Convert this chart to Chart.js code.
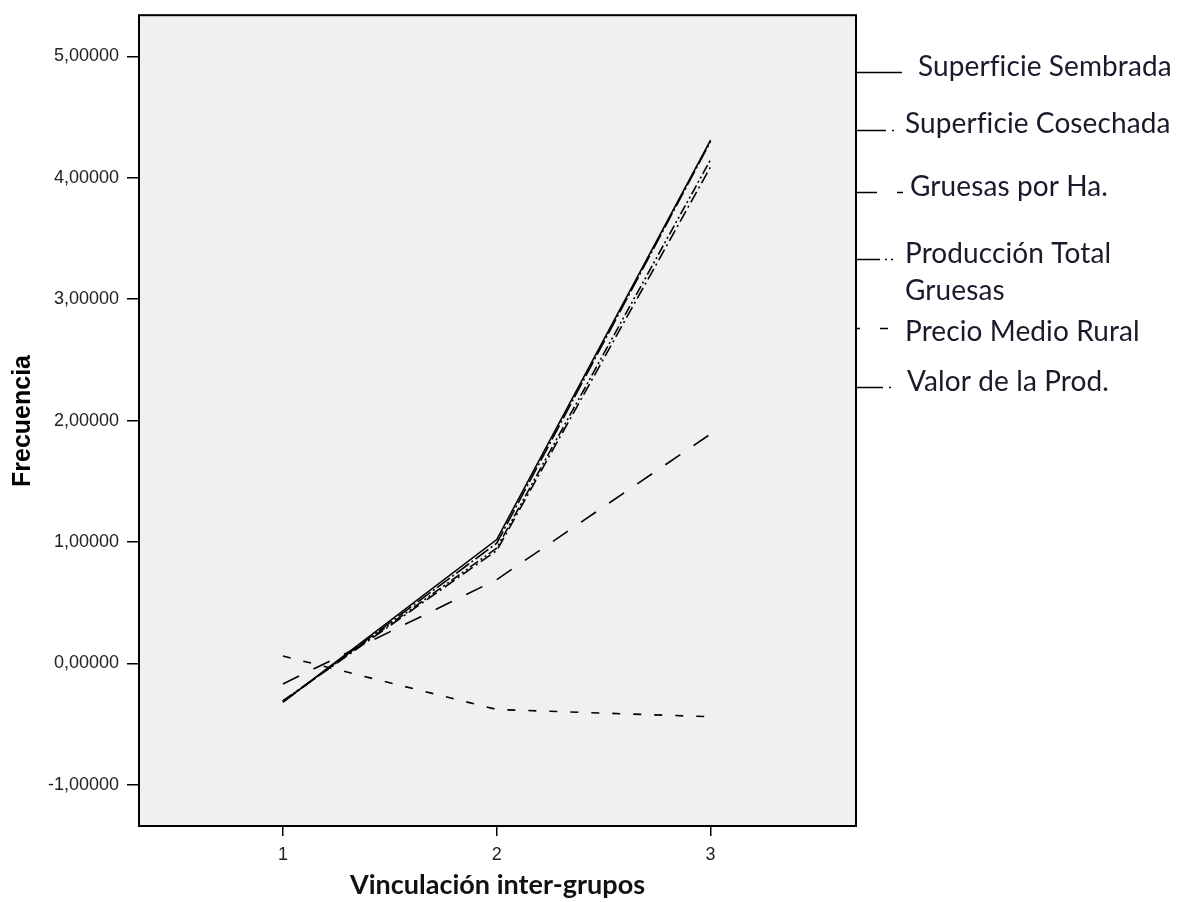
<!DOCTYPE html>
<html>
<head>
<meta charset="utf-8">
<script src="https://cdn.jsdelivr.net/npm/chart.js@4.4.1/dist/chart.umd.min.js"></script>
<style>
  html, body { margin: 0; padding: 0; background: #ffffff; }
  #wrap { width: 1181px; height: 902px; position: relative; }
</style>
</head>
<body>
<div id="wrap"><canvas id="c" width="1181" height="902"></canvas></div>
<script>
// Grupos de vinculación (eje X)
const groups = [1, 2, 3];
// Marcas del eje de frecuencia
const yTicks = [-1, 0, 1, 2, 3, 4, 5];

// Series por variable
const superficieSembrada = [-0.32, 1.02, 4.31];
const superficieCosechada = [-0.32, 0.99, 4.30];
const gruesasPorHa = [-0.17, 0.69, 1.89];
const produccionTotal = [-0.31, 0.95, 4.15];
const precioMedioRural = [0.06, -0.38, -0.44];
const valorProduccion = [-0.31, 0.93, 4.09];

const seriesNames = [
  'Superficie Sembrada',
  'Superficie Cosechada',
  'Gruesas por Ha.',
  'Producción Total Gruesas',
  'Precio Medio Rural',
  'Valor de la Prod.'
];
const seriesValues = [superficieSembrada, superficieCosechada, gruesasPorHa,
                      produccionTotal, precioMedioRural, valorProduccion];
const seriesDash = [[], [16, 3, 2, 3], [18, 16], [10, 3, 2, 3, 2, 3], [8, 13], [12, 4, 2, 4]];

const datasets = seriesValues.map((vals, i) => ({
  label: seriesNames[i],
  data: vals.map((v, j) => ({ x: groups[j], y: v })),
  borderColor: '#000000',
  borderWidth: 1.6,
  borderDash: seriesDash[i],
  pointRadius: 0,
  tension: 0,
  fill: false
}));

// Fondo gris y marco del área de trazado
const framePlugin = {
  id: 'frame',
  beforeDraw(chart) {
    const { ctx, chartArea: a } = chart;
    ctx.save();
    ctx.fillStyle = '#f0f0f0';
    ctx.fillRect(a.left, a.top, a.right - a.left, a.bottom - a.top);
    ctx.restore();
  },
  afterDraw(chart) {
    const { ctx, chartArea: a } = chart;
    ctx.save();
    ctx.strokeStyle = '#000000';
    ctx.lineWidth = 2;
    ctx.strokeRect(a.left, a.top, a.right - a.left, a.bottom - a.top);
    ctx.restore();
  }
};

// Muestras de línea y posición de cada fila de la leyenda lateral
const legendRows = [
  { sample: [[857, 902]], ly: 72, tx: 918, ty: 76 },
  { sample: [[857, 886], [892, 894]], ly: 130, tx: 905, ty: 133 },
  { sample: [[857, 877], [897, 903]], ly: 192, tx: 910, ty: 196 },
  { sample: [[857, 880], [885, 887], [891, 893]], ly: 259, tx: 905, ty: 263, wrap: true },
  { sample: [[857, 860], [880, 888]], ly: 328, tx: 905, ty: 341 },
  { sample: [[857, 883], [889, 891]], ly: 387, tx: 907, ty: 391 }
];

const textPlugin = {
  id: 'texts',
  afterDraw(chart) {
    const { ctx, chartArea: a } = chart;
    ctx.save();
    // Título del eje Y
    ctx.fillStyle = '#000000';
    ctx.font = 'bold 25px "Liberation Sans", Arial, sans-serif';
    ctx.textAlign = 'center';
    ctx.textBaseline = 'middle';
    ctx.translate(23, 421);
    ctx.rotate(-Math.PI / 2);
    ctx.fillText('Frecuencia', 0, 0);
    ctx.restore();

    // Título del eje X
    ctx.save();
    ctx.fillStyle = '#111111';
    ctx.font = 'bold 27px Lato, "Open Sans", sans-serif';
    ctx.textAlign = 'center';
    ctx.textBaseline = 'middle';
    ctx.fillText('Vinculación inter-grupos', (a.left + a.right) / 2, 885);
    ctx.restore();

    // Leyenda
    ctx.save();
    ctx.strokeStyle = '#000000';
    ctx.lineWidth = 1.5;
    ctx.fillStyle = '#1a1a2a';
    ctx.font = '28px Lato, "Open Sans", sans-serif';
    ctx.letterSpacing = '0.1px';
    ctx.textAlign = 'left';
    ctx.textBaseline = 'alphabetic';
    legendRows.forEach((r, i) => {
      r.sample.forEach(([x0, x1]) => {
        ctx.beginPath();
        ctx.moveTo(x0, r.ly + 0.5);
        ctx.lineTo(x1, r.ly + 0.5);
        ctx.stroke();
      });
      const name = seriesNames[i];
      if (r.wrap) {
        const parts = name.split(' ');
        ctx.fillText(parts.slice(0, 2).join(' '), r.tx, r.ty);
        ctx.fillText(parts.slice(2).join(' '), r.tx, r.ty + 37);
      } else {
        ctx.fillText(name, r.tx, r.ty);
      }
    });
    ctx.restore();
  }
};

new Chart(document.getElementById('c'), {
  type: 'line',
  data: { datasets },
  options: {
    responsive: false,
    animation: false,
    layout: { padding: { top: 0, right: 325, left: 0, bottom: 0 } },
    plugins: { legend: { display: false }, tooltip: { enabled: false }, title: { display: false } },
    scales: {
      x: {
        type: 'linear',
        min: 0.327,
        max: 3.68,
        afterBuildTicks(scale) { scale.ticks = groups.map(v => ({ value: v })); },
        afterFit(scale) { scale.height = 76; },
        border: { display: false },
        grid: { drawOnChartArea: false, drawTicks: true, tickLength: 10, color: '#000000', lineWidth: 1.5 },
        ticks: {
          color: '#222222',
          font: { family: '"Liberation Sans", Arial, sans-serif', size: 18 },
          padding: 8,
          maxRotation: 0,
          callback: v => String(v)
        }
      },
      y: {
        min: -1.34,
        max: 5.34,
        afterBuildTicks(scale) { scale.ticks = yTicks.map(v => ({ value: v })); },
        afterFit(scale) { scale.width = 139; },
        border: { display: false },
        grid: { drawOnChartArea: false, drawTicks: true, tickLength: 12, color: '#000000', lineWidth: 1.5 },
        ticks: {
          color: '#222222',
          font: { family: '"Liberation Sans", Arial, sans-serif', size: 18, lineHeight: 0.8 },
          padding: 8,
          callback: v => v.toFixed(5).replace('.', ',')
        }
      }
    }
  },
  plugins: [framePlugin, textPlugin]
});
</script>
</body>
</html>
